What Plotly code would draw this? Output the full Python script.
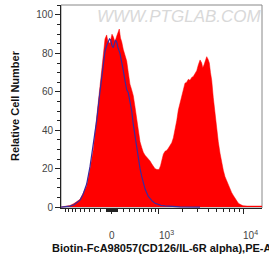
import numpy as np
import plotly.graph_objects as go

# x values are in logicle display units (asinh scale, 0 -> 0, decades ~1 unit)
red_x = [-0.582, -0.525, -0.479, -0.434, -0.400, -0.365, -0.331, -0.289, -0.251, -0.213,
         -0.183, -0.156, -0.118, -0.091, -0.080, -0.061, -0.046, -0.023, -0.011, 0.000,
         0.015, 0.034, 0.054, 0.068, 0.083, 0.097, 0.111, 0.129, 0.148, 0.168,
         0.186, 0.205, 0.225, 0.243, 0.263, 0.282, 0.300, 0.320, 0.339, 0.357,
         0.377, 0.396, 0.414, 0.434, 0.453, 0.471, 0.491, 0.514, 0.537, 0.554,
         0.571, 0.586, 0.605, 0.624, 0.643, 0.662, 0.682, 0.700, 0.719, 0.739,
         0.757, 0.776, 0.796, 0.814, 0.833, 0.853, 0.871, 0.890, 0.910, 0.928,
         0.947, 0.967, 0.985, 1.005, 1.024, 1.035, 1.050, 1.067, 1.081, 1.096,
         1.111, 1.124, 1.138, 1.156, 1.176, 1.195, 1.213, 1.233, 1.252, 1.271,
         1.290, 1.309, 1.328, 1.347, 1.366, 1.385, 1.404, 1.423, 1.442, 1.461,
         1.495, 1.541, 1.712]
red_y = [0, 0.3, 0.8, 1.8, 2.8, 4, 7, 11, 20, 30,
         43, 55, 70, 82, 87.5, 89.6, 86, 85.3, 88, 90,
         88.7, 86, 89, 91, 92.7, 88, 86, 82, 79, 76,
         70, 64, 61, 58, 52, 46, 39, 34, 31, 28.5,
         27, 26, 25.5, 24, 22.5, 21, 20, 19.5, 19.6, 21.5,
         25, 27.5, 29, 29.5, 30.6, 32, 33.5, 36, 40, 45,
         50.5, 54, 59, 62, 64.5, 65, 66.5, 66, 67.5, 68,
         69.5, 71, 74, 76.6, 75, 72.5, 74, 77, 78.3, 77,
         75, 70, 66, 57, 48, 40, 34, 28, 23, 19,
         15.8, 13.5, 11, 8.9, 7.5, 6, 4.5, 3, 2, 1.4,
         0.7, 0.5, 0.5]

blue_x = [-0.582, -0.525, -0.479, -0.434, -0.388, -0.365, -0.331, -0.289, -0.251, -0.213,
          -0.175, -0.148, -0.118, -0.099, -0.080, -0.061, -0.042, -0.029, -0.015, 0.000,
          0.015, 0.029, 0.040, 0.054, 0.068, 0.091, 0.111, 0.129, 0.148, 0.168,
          0.186, 0.205, 0.225, 0.243, 0.263, 0.282, 0.300, 0.320, 0.339, 0.357,
          0.377, 0.396, 0.414, 0.434, 0.457, 0.491, 0.525, 0.559, 0.605, 0.662,
          0.719, 0.776, 1.005]
blue_y = [0, 0.2, 0.5, 1.2, 2.5, 3.6, 6.5, 12, 21, 32,
          45, 56, 68, 75, 81, 84, 86, 87.5, 87, 84,
          83, 85, 87, 86, 83, 80, 76, 71, 66, 61,
          59.5, 55, 50, 43, 37, 31, 25, 20, 16, 12.5,
          9.5, 7.5, 5.5, 4.5, 3.2, 2, 1.4, 0.9, 0.6, 0.4,
          0.2, 0.1, 0]

x_tick_values = [0, 1e3, 1e4]
x_tick_labels = ["0", "10<sup>3</sup>", "10<sup>4</sup>"]
y_tick_values = [0, 20, 40, 60, 80, 100]

COF = 640.0
def T(v):
    return np.arcsinh(np.asarray(v, dtype=float) / COF) / np.log(10)

minor_raw = ([-k * 100 for k in range(1, 11)] +
             [k * 10 for k in range(-9, 10) if k != 0] +
             [k * 100 for k in range(1, 10)] +
             [k * 1000 for k in range(2, 10)] +
             [k * 10000 for k in range(2, 4)])
minor_vals = [float(v) for v in T(minor_raw)]
major_vals = [float(v) for v in T(x_tick_values)]

fig = go.Figure()
fig.add_trace(go.Scatter(x=red_x, y=red_y, mode="lines", fill="tozeroy",
                         fillcolor="#ff0000", line=dict(color="#ff0000", width=0.5),
                         showlegend=False, hoverinfo="skip"))
fig.add_trace(go.Scatter(x=blue_x, y=blue_y, mode="lines",
                         line=dict(color="#3b2a9e", width=1.2),
                         showlegend=False, hoverinfo="skip"))

font_family = "Arial, Liberation Sans, sans-serif"
fig.update_layout(
    template="none",
    width=269, height=262,
    margin=dict(l=61, r=7, t=5, b=54, autoexpand=False),
    paper_bgcolor="white", plot_bgcolor="white",
    font=dict(family=font_family, color="#444444", size=10),
    xaxis=dict(range=[-0.582, 1.712], showgrid=False, zeroline=False, automargin=False,
               showline=True, linecolor="#222222", linewidth=1,
               tickmode="array", tickvals=major_vals, showticklabels=False,
               ticks="outside", ticklen=5, tickcolor="#222222", tickwidth=1,
               minor=dict(tickmode="array", tickvals=minor_vals, ticks="outside",
                          ticklen=3, tickcolor="#222222", tickwidth=1, showgrid=False)),
    yaxis=dict(range=[-0.5, 105.2], showgrid=False, zeroline=False, automargin=False,
               showline=True, linecolor="#222222", linewidth=1,
               tickmode="array", tickvals=y_tick_values,
               ticks="outside", ticklen=5, tickcolor="#222222", tickwidth=1,
               tickfont=dict(size=10, color="#444444"),
               minor=dict(dtick=5, ticks="outside", ticklen=3,
                          tickcolor="#222222", tickwidth=1, showgrid=False)),
)

# x tick labels placed at the axis' own tick positions
for xv, lab in zip(major_vals, x_tick_labels):
    is_pow = "sup" in lab
    fig.add_annotation(text=lab, x=xv, xref="x", y=-0.170, yref="paper",
                       showarrow=False, xanchor="left" if is_pow else "center",
                       yanchor="bottom", xshift=-2 if is_pow else 0,
                       font=dict(size=10, color="#444444", family=font_family))

fig.add_shape(type="rect", xref="paper", yref="paper", x0=0, y0=0, x1=1, y1=1,
              line=dict(color="#888888", width=1), layer="below")

fig.add_annotation(text="<b>Relative Cell Number</b>", xref="paper", yref="paper",
                   x=-0.229, y=0.507, textangle=-90, showarrow=False,
                   xanchor="center", yanchor="middle",
                   font=dict(size=11, color="#111111", family=font_family))
fig.add_annotation(text="<b>Biotin-FcA98057(CD126/IL-6R alpha),PE-A</b>", xref="paper", yref="paper",
                   x=0.5, y=-0.197, showarrow=False, xanchor="center", yanchor="middle",
                   font=dict(size=11, color="#111111", family=font_family))
fig.add_annotation(text="<i>WWW.PTGLAB.COM</i>", xref="paper", yref="paper",
                   x=0.169, y=0.941, showarrow=False, xanchor="left", yanchor="middle",
                   font=dict(size=17, color="#d9d9d9", family=font_family))

fig.write_html("out.html", config={"displayModeBar": False},
               post_script="document.body.style.margin='0';document.body.style.overflow='hidden';")
